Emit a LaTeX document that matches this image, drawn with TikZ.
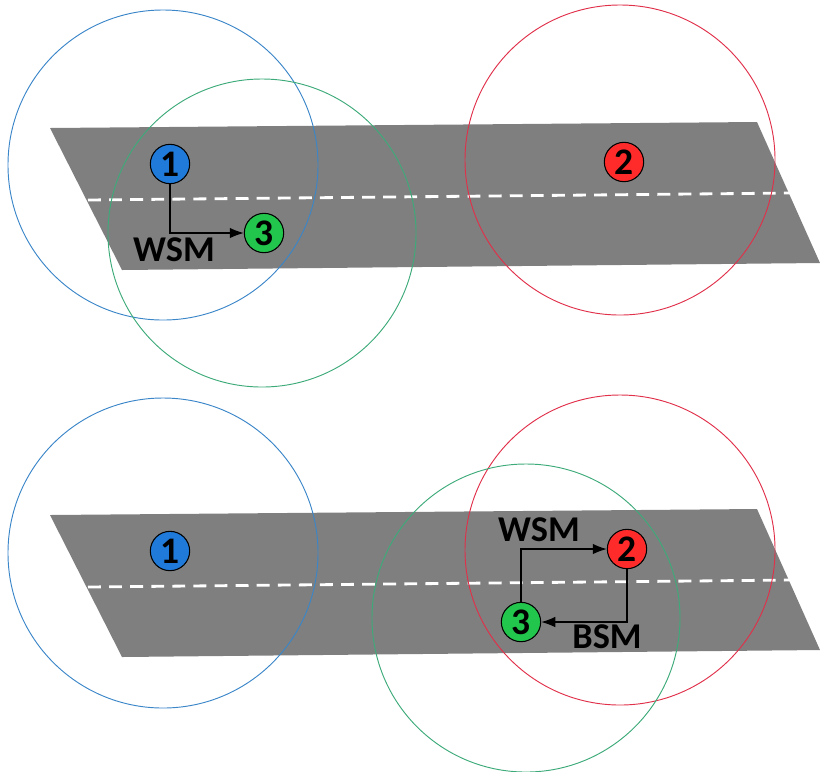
\documentclass[tikz,border=0pt]{standalone}
\usepackage{fontspec}
\setmainfont{Carlito}
\usepackage{xcolor}
\definecolor{road-grey}{HTML}{7F7F7F}
\definecolor{car-blue}{HTML}{1F7AD9}
\definecolor{car-red}{HTML}{FF2B2B}
\definecolor{car-green}{HTML}{22C64C}
\definecolor{range-blue}{HTML}{3A86C8}
\definecolor{range-green}{HTML}{3DAA7A}
\definecolor{range-red}{HTML}{E0304A}
\usepackage{tikz}
\usetikzlibrary{arrows.meta}

\begin{document}
\begin{tikzpicture}[x=0.03cm, y=-0.03cm,
    car/.style={circle, draw=black, line width=0.9pt, minimum size=1.18cm,
        inner sep=0pt, font=\fontsize{32}{34}\selectfont\bfseries},
    msg/.style={-{Latex[length=12pt, width=9pt]}, line width=1pt},
    msglabel/.style={inner sep=0pt, font=\fontsize{31}{33}\selectfont\bfseries},
    radio/.style={line width=0.8pt},
    lane/.style={white, line width=2.4pt, dash pattern=on 11pt off 7pt}]

    \useasboundingbox (0,0) rectangle (820,771);

    % Road (before)
    \fill[road-grey] (50,128) -- (757,122) -- (820,263) -- (122,270) -- cycle;
    \draw[lane] (88,200) -- (792,193);

    % Road (after)
    \fill[road-grey] (50,515) -- (757,509) -- (820,650) -- (122,657) -- cycle;
    \draw[lane] (88,587) -- (792,580);

    % Ranges (before)
    \draw[radio, range-blue] (163,165) circle (4.65cm);
    \draw[radio, range-green] (262,233) circle (4.62cm);
    \draw[radio, range-red] (620,160) circle (4.65cm);

    % Ranges (after)
    \draw[radio, range-blue] (163,553) circle (4.65cm);
    \draw[radio, range-red] (620,550) circle (4.65cm);
    \draw[radio, range-green] (526,618) circle (4.62cm);

    % Vehicles (before)
    \node[car, fill=car-blue] (a1) at (170,164) {1};
    \node[car, fill=car-red] (a2) at (624,162) {2};
    \node[car, fill=car-green] (a3) at (264,233) {3};

    % Vehicles (after)
    \node[car, fill=car-blue] (b1) at (170,551) {1};
    \node[car, fill=car-red] (b2) at (627,549) {2};
    \node[car, fill=car-green] (b3) at (521,622) {3};

    % Messages
    \draw[msg] (a1.south) |- (a3.west);
    \node[msglabel] (aw) at (174,250) {WSM};

    \draw[msg] (b3.north) |- (b2.west);
    \node[msglabel] (bw) at (539,530) {WSM};
    \draw[msg] (b2.south) |- (b3.east);
    \node[msglabel] (bb) at (607,637) {BSM};

\end{tikzpicture}
\end{document}
